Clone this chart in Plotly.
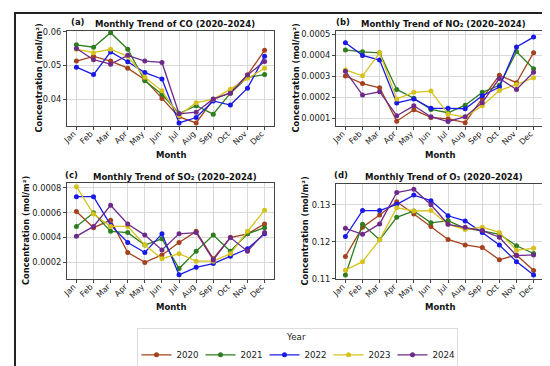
import plotly.graph_objects as go

months = ["Jan", "Feb", "Mar", "Apr", "May", "Jun", "Jul", "Aug", "Sep", "Oct", "Nov", "Dec"]
years = ["2020", "2021", "2022", "2023", "2024"]
colors = ["#a3421c", "#2e7d1e", "#1a1ae6", "#d6c21c", "#6e2a8a"]

co_2020 = [0.0513, 0.0527, 0.0513, 0.0492, 0.0458, 0.0402, 0.0348, 0.0330, 0.0400, 0.0420, 0.0472, 0.0545]
co_2021 = [0.0561, 0.0554, 0.0597, 0.0548, 0.0455, 0.0415, 0.0358, 0.0381, 0.0356, 0.0418, 0.0465, 0.0473]
co_2022 = [0.0495, 0.0473, 0.0540, 0.0511, 0.0479, 0.0460, 0.0330, 0.0346, 0.0395, 0.0383, 0.0433, 0.0527]
co_2023 = [0.0548, 0.0538, 0.0548, 0.0527, 0.0465, 0.0425, 0.0352, 0.0390, 0.0400, 0.0430, 0.0462, 0.0492]
co_2024 = [0.0550, 0.0517, 0.0504, 0.0530, 0.0513, 0.0509, 0.0357, 0.0362, 0.0401, 0.0418, 0.0472, 0.0512]

no2_2020 = [0.000302, 0.000266, 0.000246, 0.000087, 0.000141, 0.000105, 0.000098, 0.000080, 0.000195, 0.000305, 0.000270, 0.000413]
no2_2021 = [0.000426, 0.000417, 0.000412, 0.000238, 0.000196, 0.000143, 0.000127, 0.000163, 0.000224, 0.000258, 0.000418, 0.000336]
no2_2022 = [0.000460, 0.000400, 0.000378, 0.000174, 0.000193, 0.000148, 0.000148, 0.000146, 0.000208, 0.000249, 0.000440, 0.000487]
no2_2023 = [0.000331, 0.000303, 0.000412, 0.000193, 0.000224, 0.000230, 0.000121, 0.000107, 0.000160, 0.000233, 0.000262, 0.000293]
no2_2024 = [0.000325, 0.000211, 0.000227, 0.000113, 0.000160, 0.000108, 0.000085, 0.000108, 0.000175, 0.000290, 0.000238, 0.000320]

so2_2020 = [0.00061, 0.00048, 0.00054, 0.00028, 0.00020, 0.00026, 0.00036, 0.00045, 0.00023, 0.00040, 0.00043, 0.00051]
so2_2021 = [0.00049, 0.00060, 0.00045, 0.00044, 0.00034, 0.00039, 0.00015, 0.00029, 0.00042, 0.00029, 0.00043, 0.00048]
so2_2022 = [0.00073, 0.00073, 0.00050, 0.00036, 0.00028, 0.00043, 0.00010, 0.00016, 0.00019, 0.00025, 0.00031, 0.00043]
so2_2023 = [0.00081, 0.00059, 0.00049, 0.00049, 0.00034, 0.00023, 0.00027, 0.00021, 0.00021, 0.00027, 0.00045, 0.00062]
so2_2024 = [0.00041, 0.00049, 0.00066, 0.00051, 0.00042, 0.00030, 0.00043, 0.00044, 0.00022, 0.00040, 0.00029, 0.00044]

o3_2020 = [0.1160, 0.1239, 0.1272, 0.1308, 0.1275, 0.1241, 0.1206, 0.1191, 0.1184, 0.1151, 0.1164, 0.1122]
o3_2021 = [0.1110, 0.1247, 0.1205, 0.1266, 0.1283, 0.1251, 0.1257, 0.1236, 0.1229, 0.1220, 0.1189, 0.1168]
o3_2022 = [0.1214, 0.1284, 0.1284, 0.1301, 0.1326, 0.1311, 0.1270, 0.1256, 0.1225, 0.1191, 0.1146, 0.1110]
o3_2023 = [0.1123, 0.1146, 0.1205, 0.1292, 0.1283, 0.1284, 0.1247, 0.1233, 0.1239, 0.1225, 0.1177, 0.1182]
o3_2024 = [0.1236, 0.1220, 0.1248, 0.1333, 0.1342, 0.1300, 0.1247, 0.1239, 0.1230, 0.1212, 0.1162, 0.1164]

panels = [
    ("(a)", "Monthly Trend of CO (2020–2024)", [co_2020, co_2021, co_2022, co_2023, co_2024],
     [0.04, 0.05, 0.06], ["0.04", "0.05", "0.06"], [0.0321, 0.0602]),
    ("(b)", "Monthly Trend of NO₂ (2020–2024)", [no2_2020, no2_2021, no2_2022, no2_2023, no2_2024],
     [0.0001, 0.0002, 0.0003, 0.0004, 0.0005], ["0.0001", "0.0002", "0.0003", "0.0004", "0.0005"], [0.000064, 0.000516]),
    ("(c)", "Monthly Trend of SO₂ (2020–2024)", [so2_2020, so2_2021, so2_2022, so2_2023, so2_2024],
     [0.0002, 0.0004, 0.0006, 0.0008], ["0.0002", "0.0004", "0.0006", "0.0008"], [0.000066, 0.00084]),
    ("(d)", "Monthly Trend of O₃ (2020–2024)", [o3_2020, o3_2021, o3_2022, o3_2023, o3_2024],
     [0.11, 0.12, 0.13], ["0.11", "0.12", "0.13"], [0.1099, 0.1356]),
]

W, H = 550, 366
# plot areas in pixels: (left, right, top, bottom)
boxes = [(59, 266, 23, 118), (328, 535, 23, 118), (59, 266, 175, 271), (328, 535, 176, 271)]
ytitle_x = [30, 287, 18, 297]
title_y = [16, 16, 169, 169]
month_y = [147, 147, 299, 299]
tag_x = [70, 335, 63, 333]

FONT = "DejaVu Sans"
fig = go.Figure()
layout = dict(
    width=W, height=H, margin=dict(l=0, r=0, t=0, b=0, autoexpand=False),
    paper_bgcolor="white", plot_bgcolor="white",
    font=dict(family=FONT, color="#222", size=8),
    annotations=[], shapes=[],
)

for i, (tag, title, series, tv, tt, yr) in enumerate(panels):
    l, r, t, b = boxes[i]
    xa = "xaxis" if i == 0 else f"xaxis{i+1}"
    ya = "yaxis" if i == 0 else f"yaxis{i+1}"
    xr = "x" if i == 0 else f"x{i+1}"
    yr_ = "y" if i == 0 else f"y{i+1}"
    for k, (yname, vals) in enumerate(zip(years, series)):
        fig.add_trace(go.Scatter(
            x=months, y=vals, mode="lines+markers", name=yname,
            line=dict(color=colors[k], width=1.3),
            marker=dict(color=colors[k], size=5),
            xaxis=xr, yaxis=yr_, showlegend=(i == 0), legendgroup=yname,
        ))
    layout[xa] = dict(
        domain=[l / W, r / W], anchor=yr_, type="category",
        categoryorder="array", categoryarray=months, range=[-0.55, 11.55],
        tickangle=-45, tickfont=dict(size=8, color="#222"),
        ticklabelstandoff=-4, ticklabelshift=-3,
        showgrid=True, gridcolor="#d9d9d9", gridwidth=1,
        showline=True, linecolor="#444", linewidth=1, mirror=True,
        ticks="outside", ticklen=3, tickcolor="#444", automargin=False,
    )
    layout[ya] = dict(
        domain=[1 - b / H, 1 - t / H], anchor=xr, range=yr,
        tickvals=tv, ticktext=tt, tickfont=dict(size=8.3, color="#222"),
        showgrid=True, gridcolor="#d9d9d9", gridwidth=1,
        showline=True, linecolor="#444", linewidth=1, mirror=True,
        ticks="outside", ticklen=3, tickcolor="#444", zeroline=False, automargin=False,
    )
    cx = (l + r) / 2
    layout["annotations"] += [
        dict(text=f"<b>{title}</b>", x=(cx + 4) / W, y=1 - title_y[i] / H, xref="paper", yref="paper",
             xanchor="center", yanchor="middle", showarrow=False, font=dict(size=8.5, color="#111")),
        dict(text=f"<b>{tag}</b>", x=tag_x[i] / W, y=1 - (title_y[i] - 2) / H, xref="paper", yref="paper",
             xanchor="center", yanchor="middle", showarrow=False, font=dict(size=8.5, color="#111")),
        dict(text="<b>Month</b>", x=cx / W, y=1 - month_y[i] / H, xref="paper", yref="paper",
             xanchor="center", yanchor="middle", showarrow=False, font=dict(size=8.5, color="#111")),
        dict(text="<b>Concentration (mol/m²)</b>", x=ytitle_x[i] / W, y=1 - (t + b) / 2 / H,
             xref="paper", yref="paper", xanchor="center", yanchor="middle", textangle=-90,
             showarrow=False, font=dict(size=8.3, color="#111")),
    ]

layout["legend"] = dict(
    orientation="h", x=289 / W, y=1 - 320 / H, xanchor="center", yanchor="top",
    bordercolor="#dddddd", borderwidth=1, bgcolor="white",
    title=dict(text="Year", side="top center", font=dict(size=8.7)),
    font=dict(size=8.7), entrywidth=19, itemwidth=30, tracegroupgap=0,
)
layout["shapes"].append(dict(type="rect", xref="paper", yref="paper",
                             x0=7 / W, x1=543 / W, y0=1 - 361 / H, y1=1 - 5 / H,
                             line=dict(color="#222", width=2)))
fig.update_layout(**layout)
fig.write_html("out.html")
